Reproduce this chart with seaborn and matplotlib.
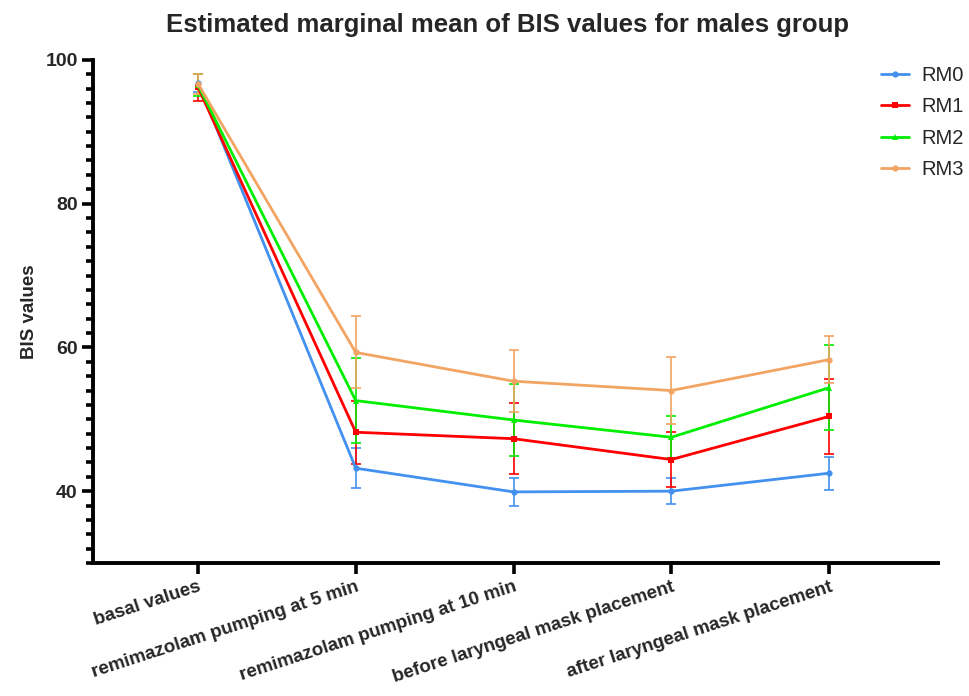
import numpy as np
import pandas as pd
import matplotlib
matplotlib.use("Agg")
import matplotlib.pyplot as plt
import seaborn as sns
from matplotlib.ticker import MultipleLocator

sns.set_theme(style="ticks")
plt.rcParams['font.family'] = ['Liberation Sans', 'DejaVu Sans']

categories = ["basal values", "remimazolam pumping at 5 min", "remimazolam pumping at 10 min",
              "before laryngeal mask placement", "after laryngeal mask placement"]
groups = ["RM0", "RM1", "RM2", "RM3"]
rm0_mean = [96.8, 43.2, 39.9, 40.0, 42.5]
rm0_sd = [1.3, 2.8, 1.9, 1.8, 2.3]
rm1_mean = [96.2, 48.2, 47.3, 44.4, 50.4]
rm1_sd = [1.9, 4.4, 4.9, 3.8, 5.2]
rm2_mean = [96.5, 52.6, 49.9, 47.5, 54.4]
rm2_sd = [1.5, 5.9, 5.0, 2.9, 5.9]
rm3_mean = [96.7, 59.3, 55.3, 54.0, 58.3]
rm3_sd = [1.4, 5.0, 4.3, 4.7, 3.3]

means = [rm0_mean, rm1_mean, rm2_mean, rm3_mean]
sds = [rm0_sd, rm1_sd, rm2_sd, rm3_sd]
colors = ["#4391EE", "#FF0000", "#00EE00", "#F2A463"]
markers = ["o", "s", "^", "o"]

df = pd.DataFrame({
    "time": categories * 4,
    "pos": list(range(5)) * 4,
    "group": sum([[g] * 5 for g in groups], []),
    "value": sum(means, []),
    "sd": sum(sds, []),
})

fig = plt.figure(figsize=(9.69, 6.96), dpi=100)
ax = fig.add_axes([0.096, 0.191, 0.872, 0.723])

for g, c in zip(groups, colors):
    sub = df[df.group == g]
    ax.errorbar(sub.pos, sub.value, yerr=sub.sd, fmt="none", ecolor=c,
                elinewidth=1.2, capsize=3.5, capthick=1.2, zorder=2)

sns.lineplot(data=df, x="pos", y="value", hue="group", style="group",
             palette=dict(zip(groups, colors)), markers=dict(zip(groups, markers)),
             dashes=False, linewidth=2.0, markersize=4.5, markeredgewidth=0,
             ax=ax, zorder=3, legend=True)

ax.set_xlim(-0.665, 4.69)
ax.set_ylim(30, 100)
ax.set_xticks(range(5))
ax.set_xticklabels(categories, rotation=18, ha="right", rotation_mode="anchor",
                   fontsize=13.5, fontweight="bold")
ax.set_yticks([40, 60, 80, 100])
ax.yaxis.set_minor_locator(MultipleLocator(2))
for lab in ax.get_yticklabels():
    lab.set_fontweight("bold")
    lab.set_fontsize(14)
ax.tick_params(axis="both", which="major", width=2.6, length=8, color="black", pad=3)
ax.tick_params(axis="y", which="minor", width=2.6, length=5, color="black")
ax.set_xlabel("")
ax.set_ylabel("BIS values", fontsize=13.5, fontweight="bold", labelpad=5)
for s in ["left", "bottom"]:
    ax.spines[s].set_linewidth(2.8)
    ax.spines[s].set_color("black")
sns.despine(ax=ax)

ax.set_title("Estimated marginal mean of BIS values for males group",
             fontsize=18.5, fontweight="bold", pad=20, x=0.49)

handles, labels = ax.get_legend_handles_labels()
leg = ax.legend(handles, labels, loc="upper left", bbox_to_anchor=(0.925, 1.0),
                frameon=False, fontsize=14.5, handlelength=1.4, handletextpad=0.6,
                labelspacing=0.62, borderaxespad=0, borderpad=0.3)
for h in leg.legend_handles:
    h.set_linewidth(2)

fig.savefig("out.png", dpi=100)
